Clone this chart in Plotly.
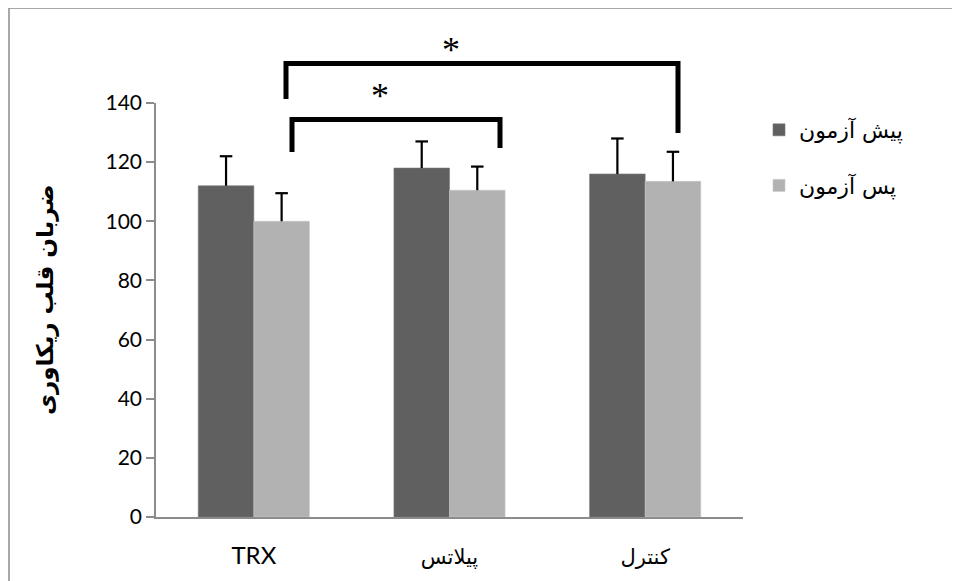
import plotly.graph_objects as go

categories = ["TRX", "پیلاتس", "کنترل"]
series_names = ["پیش آزمون", "پس آزمون"]
pre_values = [112, 118, 116]
pre_errors = [10, 9, 12]
post_values = [100, 110.5, 113.5]
post_errors = [9.5, 8, 10]
y_ticks = [0, 20, 40, 60, 80, 100, 120, 140]
y_title = "ضربان قلب ریکاوری"

dark = "#606060"
light = "#b2b2b2"
ar_font = "DejaVu Sans"
lat_font = "Lato, DejaVu Sans"

positions = list(range(len(categories)))
bar_w = 0.284
half = bar_w / 2
cap = 0.032

fig = go.Figure()


def add_series(vals, errs, name, color, edge, shift):
    xs = [p + shift for p in positions]
    fig.add_trace(go.Bar(x=xs, y=vals, width=bar_w, name=name, legendgroup=name,
                         marker=dict(color=color, line=dict(color=edge, width=0.6))))
    ex, ey = [], []
    for x, v, e in zip(xs, vals, errs):
        ex += [x, x, None, x - cap, x + cap, None]
        ey += [v, v + e, None, v + e, v + e, None]
    fig.add_trace(go.Scatter(x=ex, y=ey, mode="lines", line=dict(color="black", width=2.2),
                             showlegend=False, hoverinfo="skip", legendgroup=name))


add_series(pre_values, pre_errors, series_names[0], dark, "#777777", -half)
add_series(post_values, post_errors, series_names[1], light, "#c6c6c6", half)

# figure is drawn 8px inside the page (body margin)
OFF = 8
W, H = 960 - OFF, 581 - OFF
X0, X1, YB, YT = 156, 743, 517, 103  # plot area in screen pixels
L = X0 - OFF
R = W - (X1 - OFF)
T = YT - OFF
B = H - (YB - OFF)


def px(sx):
    return (sx - X0) / (X1 - X0)


def py(sy):
    return (YB - sy) / (YB - YT)


shapes = []
shapes.append(dict(type="rect", xref="paper", yref="paper",
                   x0=px(9), x1=px(990), y0=py(620), y1=py(8),
                   line=dict(color="#8c8c8c", width=1.5), fillcolor="rgba(0,0,0,0)", layer="below"))
bw = 5
shapes.append(dict(type="path", xref="paper", yref="paper",
                   path=f"M {px(286)} {py(99)} L {px(286)} {py(63.5)} L {px(678)} {py(63.5)} L {px(678)} {py(133)}",
                   line=dict(color="black", width=bw)))
shapes.append(dict(type="path", xref="paper", yref="paper",
                   path=f"M {px(292)} {py(152)} L {px(292)} {py(119.5)} L {px(500)} {py(119.5)} L {px(500)} {py(148)}",
                   line=dict(color="black", width=bw)))

annotations = [
    dict(text="*", xref="paper", yref="paper", x=px(451), y=py(50), showarrow=False,
         font=dict(family="Liberation Serif", size=36, color="black"), xanchor="center", yanchor="middle"),
    dict(text="*", xref="paper", yref="paper", x=px(380), y=py(96), showarrow=False,
         font=dict(family="Liberation Serif", size=36, color="black"), xanchor="center", yanchor="middle"),
    dict(text="<b>" + y_title + "</b>", xref="paper", yref="paper", x=px(45), y=py(300), textangle=-90,
         showarrow=False, font=dict(family=ar_font, size=23, color="black"),
         xanchor="center", yanchor="middle"),
]

tick_text = [
    f'<span style="font-size:24px">{c}</span>' if c.isascii() else f'<span style="font-size:21px">{c}</span>'
    for c in categories
]

fig.update_layout(
    width=W, height=H,
    margin=dict(l=L, r=R, t=T, b=B),
    paper_bgcolor="white", plot_bgcolor="white",
    barmode="overlay",
    showlegend=True,
    legend=dict(x=px(759), y=py(109), xanchor="left", yanchor="top",
                font=dict(family=ar_font, size=22, color="black"),
                traceorder="grouped", tracegroupgap=24, itemwidth=30,
                bgcolor="rgba(0,0,0,0)"),
    shapes=shapes, annotations=annotations,
    xaxis=dict(range=[-0.5, 2.5], tickvals=positions, ticktext=tick_text,
               showline=True, linecolor="#8c8c8c", linewidth=1.5, ticks="",
               tickfont=dict(family=lat_font, size=21, color="black"),
               ticklabelstandoff=20, showgrid=False, zeroline=False),
    yaxis=dict(range=[0, 140], tickvals=y_ticks, showline=True, linecolor="#8c8c8c", linewidth=1.5,
               ticks="outside", ticklen=8, tickcolor="#8c8c8c", tickwidth=1.5,
               tickfont=dict(family=lat_font, size=21, color="black"),
               showgrid=False, zeroline=False),
)

fig.write_html("out.html")
